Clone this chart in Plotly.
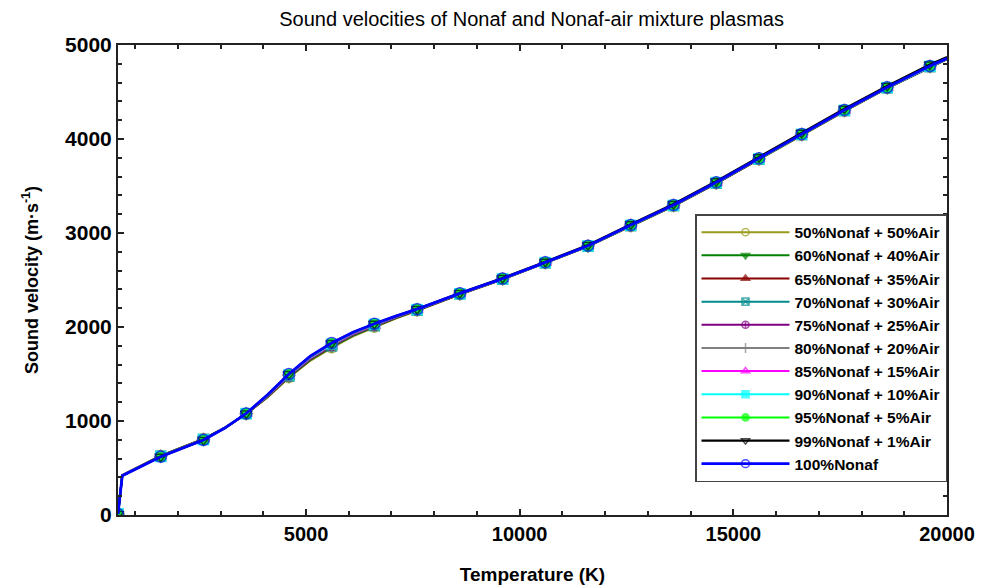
import plotly.graph_objects as go

# Temperature grid (K)
temperature = [600, 700, 1600, 2100, 2600, 3100, 3600, 4100, 4600, 5100, 5600, 6100, 6600, 7100,
               7600, 8600, 9600, 10600, 11600, 12600, 13600, 14600, 15600, 16600, 17600, 18600,
               19600, 20000]

# Sound velocity (m/s) for each mixture
v50 = [10, 425, 632, 718, 812, 930, 1075, 1250, 1460, 1640, 1778, 1900, 1998, 2090, 2172, 2345,
       2505, 2678, 2855, 3070, 3285, 3525, 3780, 4040, 4295, 4538, 4765, 4848]
v60 = [10, 424, 630, 716, 810, 929, 1076, 1255, 1467, 1650, 1787, 1908, 2005, 2095, 2175, 2347,
       2507, 2680, 2857, 3073, 3287, 3527, 3782, 4042, 4297, 4540, 4767, 4850]
v65 = [10, 423, 629, 715, 808, 928, 1076, 1258, 1471, 1655, 1792, 1913, 2009, 2098, 2177, 2348,
       2508, 2681, 2858, 3075, 3289, 3529, 3784, 4044, 4299, 4541, 4768, 4851]
v70 = [10, 422, 628, 714, 807, 928, 1077, 1261, 1475, 1660, 1797, 1917, 2013, 2101, 2179, 2350,
       2509, 2682, 2859, 3076, 3290, 3530, 3785, 4045, 4300, 4542, 4769, 4852]
v75 = [10, 421, 627, 713, 805, 927, 1077, 1264, 1479, 1665, 1802, 1922, 2017, 2104, 2181, 2351,
       2510, 2683, 2860, 3078, 3292, 3532, 3787, 4046, 4302, 4543, 4770, 4853]
v80 = [10, 421, 626, 711, 804, 927, 1078, 1267, 1483, 1670, 1807, 1927, 2021, 2107, 2183, 2352,
       2511, 2684, 2861, 3079, 3293, 3533, 3788, 4048, 4303, 4545, 4772, 4854]
v85 = [10, 420, 625, 710, 803, 926, 1078, 1270, 1487, 1675, 1812, 1932, 2025, 2109, 2185, 2354,
       2512, 2685, 2862, 3081, 3295, 3535, 3790, 4049, 4305, 4546, 4773, 4855]
v90 = [10, 419, 623, 709, 801, 926, 1079, 1273, 1491, 1680, 1818, 1937, 2029, 2111, 2187, 2355,
       2513, 2686, 2863, 3082, 3296, 3536, 3791, 4050, 4306, 4547, 4774, 4856]
v95 = [10, 419, 622, 708, 800, 925, 1079, 1276, 1495, 1685, 1824, 1941, 2032, 2113, 2189, 2357,
       2514, 2687, 2864, 3084, 3297, 3538, 3793, 4052, 4308, 4549, 4776, 4857]
v99 = [10, 418, 621, 707, 799, 925, 1080, 1279, 1499, 1689, 1829, 1945, 2035, 2116, 2192, 2362,
       2521, 2695, 2873, 3094, 3308, 3550, 3806, 4066, 4323, 4565, 4792, 4873]
v100 = [10, 418, 620, 707, 798, 925, 1080, 1280, 1500, 1690, 1830, 1945, 2035, 2115, 2190, 2358,
        2515, 2688, 2865, 3085, 3298, 3539, 3794, 4053, 4309, 4550, 4777, 4858]

labels = ["50%Nonaf + 50%Air", "60%Nonaf + 40%Air", "65%Nonaf + 35%Air", "70%Nonaf + 30%Air",
          "75%Nonaf + 25%Air", "80%Nonaf + 20%Air", "85%Nonaf + 15%Air", "90%Nonaf + 10%Air",
          "95%Nonaf + 5%Air", "99%Nonaf + 1%Air", "100%Nonaf"]
series = [v50, v60, v65, v70, v75, v80, v85, v90, v95, v99, v100]

colors = ["#9a9a1e", "#008000", "#8b0000", "#008b8b", "#800080", "#808080", "#ff00ff",
          "#00ffff", "#00ff00", "#000000", "#0000ff"]
symbols = ["circle-open", "triangle-down", "triangle-up", "square-x-open", "circle-cross-open",
           "cross-thin-open", "triangle-up-open", "square", "circle", "triangle-down-open",
           "circle-open"]
widths = [2, 2, 2, 2, 2, 2, 2, 2, 2, 2.2, 2.8]
msizes = [10, 10, 10, 10, 10, 10, 10, 10, 10, 10, 11]

FONT = "Liberation Sans, Arial, sans-serif"

fig = go.Figure()
for lab, vals, c, s, w, ms in zip(labels, series, colors, symbols, widths, msizes):
    sizes = [ms if (t - 600) % 1000 == 0 else 0 for t in temperature]
    fig.add_trace(go.Scatter(
        x=temperature, y=vals, name=lab, mode="lines+markers",
        line=dict(color=c, width=w),
        marker=dict(symbol=s, size=sizes, color=c, line=dict(color=c, width=1.5)),
    ))

axis_common = dict(
    showgrid=False, zeroline=False, showline=True, linecolor="#222", linewidth=2,
    mirror="allticks", ticks="inside", ticklen=6, tickwidth=1.5, tickcolor="#222",
    automargin=False,
)

fig.update_layout(
    width=990, height=585,
    margin=dict(l=118, r=43, t=45, b=70),
    paper_bgcolor="white", plot_bgcolor="white",
    title=dict(text="Sound velocities of Nonaf and Nonaf-air mixture plasmas",
               x=0.537, xanchor="center", y=0.968, yanchor="middle",
               font=dict(family=FONT, size=20, color="black")),
    xaxis=dict(range=[600, 20000], tick0=0, dtick=5000, tickformat="d",
               minor=dict(dtick=1000, tick0=0, ticks="inside", ticklen=4, tickcolor="#222"),
               tickfont=dict(family=FONT, size=20, color="black", weight="bold"),
               title=dict(text="Temperature (K)", standoff=27,
                          font=dict(family=FONT, size=19, color="black", weight="bold")),
               **axis_common),
    yaxis=dict(range=[0, 5000], tick0=0, dtick=1000, tickformat="d",
               minor=dict(dtick=200, ticks="inside", ticklen=4, tickcolor="#222"),
               tickfont=dict(family=FONT, size=21, color="black", weight="bold"),
               title=dict(text="Sound velocity (m·s<sup>-1</sup>)", standoff=22,
                          font=dict(family=FONT, size=18, color="black", weight="bold")),
               **axis_common),
    legend=dict(x=1, xanchor="right", y=0.07, yanchor="bottom",
                bgcolor="white", bordercolor="#444", borderwidth=1.5,
                font=dict(family=FONT, size=15.5, color="black", weight="bold"),
                itemwidth=88, tracegroupgap=0),
    showlegend=True,
)

fig.write_html("out.html")
